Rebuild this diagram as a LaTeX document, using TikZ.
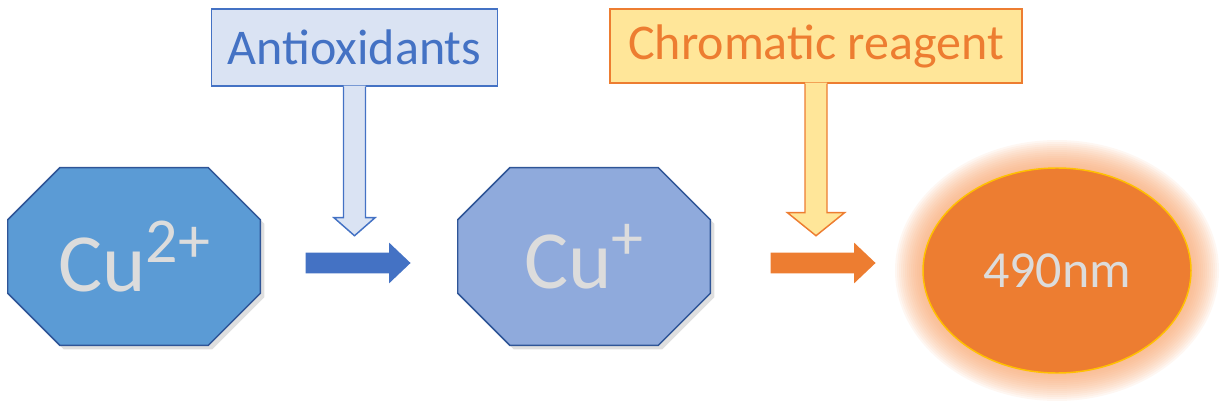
\documentclass[tikz,border=0pt]{standalone}
\usepackage{fontspec}
\setmainfont{Carlito}
\usetikzlibrary{shapes.geometric,shapes.arrows,shadows,backgrounds,positioning,calc}
\definecolor{ionBlue}{RGB}{91,155,213}
\definecolor{ionLight}{RGB}{143,170,220}
\definecolor{ionEdge}{RGB}{47,85,151}
\definecolor{accBlue}{RGB}{68,114,196}
\definecolor{paleBlue}{RGB}{218,227,243}
\definecolor{accOrange}{RGB}{237,125,49}
\definecolor{paleGold}{RGB}{255,230,153}
\definecolor{rimGold}{RGB}{255,192,0}
\definecolor{glowOrange}{RGB}{248,165,110}
\definecolor{ionText}{RGB}{220,220,220}
\def\myPx{0.75pt}
\def\myCut{52}

\begin{document}
\begin{tikzpicture}[x=\myPx,y=-\myPx]
      \tikzstyle{every node} = [font=\fontsize{37.5}{37.5}\selectfont]
      \tikzstyle{ion} = [rectangle, minimum width=252*\myPx, minimum height=177*\myPx, inner sep=0pt, text=ionText, font=\fontsize{62}{62}\selectfont]
      \tikzstyle{octagon} = [draw=ionEdge, line width=1.1pt, line join=miter, drop shadow={shadow xshift=3pt, shadow yshift=-3pt, opacity=0.25}]
      \tikzstyle{reagent} = [draw, rectangle, line width=1.1pt, inner sep=0pt]
      \tikzstyle{flow} = [single arrow, draw=none, minimum height=105*\myPx, minimum width=40*\myPx, single arrow head extend=10*\myPx, single arrow tip angle=87, inner xsep=0pt, inner ysep=10*\myPx, yshift=-6.5*\myPx]
      \useasboundingbox (0,0) rectangle (1230,413);
      % Species
      \node[ion](cuII) at (134,256.5){Cu\raisebox{22pt}{\fontsize{48}{48}\selectfont 2+}};
      \node[ion](cuI) at (584,256.5){Cu\raisebox{22pt}{\fontsize{48}{48}\selectfont +}};
      \node[ellipse, draw=rimGold, line width=1.1pt, fill=accOrange, minimum width=268*\myPx, minimum height=205*\myPx, text=ionText, font=\fontsize{39}{39}\selectfont](nm) at (1057,270.5){490nm};
      % Reagents
      \node[reagent, draw=accBlue, fill=paleBlue, text=accBlue, minimum width=286*\myPx, minimum height=77*\myPx](anti) at (354.5,47.5){Antioxidants};
      \node[reagent, draw=accOrange, fill=paleGold, text=accOrange, minimum width=412*\myPx, minimum height=74*\myPx](chrom) at (816,46){Chromatic reagent};
      % Connections
      \node[flow, fill=accBlue, right=45*\myPx of cuII](stepA){};
      \node[flow, fill=accOrange, right=60*\myPx of cuI](stepB){};
      \fill[paleBlue]
      ($(anti.south)+(-11,-1)$) -- ++(0,132) -- ++(-9.5,0) -- ++(20.5,18) -- ++(20.5,-18) -- ++(-9.5,0) -- ++(0,-132) -- cycle;
      \draw[accBlue, line width=1.1pt, line join=miter]
      ($(anti.south)+(-11,0)$) -- ++(0,131) -- ++(-9.5,0) -- ++(20.5,18) -- ++(20.5,-18) -- ++(-9.5,0) -- ++(0,-131);
      \fill[paleGold]
      ($(chrom.south)+(-11,-1)$) -- ++(0,130) -- ++(-17.5,0) -- ++(28.5,23) -- ++(28.5,-23) -- ++(-17.5,0) -- ++(0,-130) -- cycle;
      \draw[accOrange, line width=1.1pt, line join=miter]
      ($(chrom.south)+(-11,0)$) -- ++(0,129) -- ++(-17.5,0) -- ++(28.5,23) -- ++(28.5,-23) -- ++(-17.5,0) -- ++(0,-129);
      % Layers
      \begin{pgfonlayer}{background}
        \foreach \ion/\col in {cuII/ionBlue, cuI/ionLight}
          \draw[octagon, fill=\col]
          ($(\ion.north west)+(\myCut,0)$) -- ($(\ion.north east)+(-\myCut,0)$) -- ($(\ion.north east)+(0,\myCut)$) -- ($(\ion.south east)+(0,-\myCut)$) -- ($(\ion.south east)+(-\myCut,0)$) -- ($(\ion.south west)+(\myCut,0)$) -- ($(\ion.south west)+(0,-\myCut)$) -- ($(\ion.north west)+(0,\myCut)$) -- cycle;
        \foreach \k in {14,...,1}
          \fill[glowOrange, opacity=0.085] (nm.center) ellipse ({134+2*\k} and {102.5+2*\k});
      \end{pgfonlayer}
    \end{tikzpicture}
\end{document}
